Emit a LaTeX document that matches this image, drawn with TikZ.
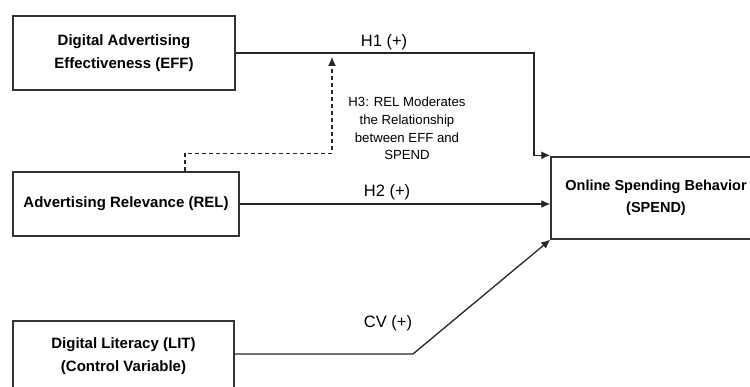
\documentclass[tikz,border=0pt]{standalone}
\usepackage{fontspec}
\setmainfont{Liberation Sans}
\usetikzlibrary{arrows.meta, positioning}

\begin{document}
\begin{tikzpicture}[
        x=1pt, y=-1pt, >={Latex[length=9pt, width=8pt]},
        var/.style={rectangle, draw=black!80, line width=1.4pt, align=center, inner sep=0pt,
            font=\fontsize{15}{23}\selectfont\bfseries},
        e/.style={->, line width=1.3pt, draw=black!85},
        mod/.style={->, line width=1.1pt, draw=black!85, dash pattern=on 4pt off 3pt},
        lab/.style={font=\fontsize{16.5}{18}\selectfont},
        note/.style={font=\fontsize{13.2}{17.7}\selectfont, align=center}
    ]
        \useasboundingbox (0,0) rectangle (750,387);

        \node[var, minimum width=222pt, minimum height=74pt] (eff) at (124,53) {Digital Advertising\\Effectiveness (EFF)};
        \node[var, minimum width=226pt, minimum height=64pt] (rel) at (126,204) {Advertising Relevance (REL)};
        \node[var, minimum width=221pt, minimum height=70pt] (lit) at (123.5,356) {Digital Literacy (LIT)\\(Control Variable)};
        \node[var, minimum width=210pt, minimum height=82pt, font=\fontsize{14.5}{22}\selectfont\bfseries] (spend) at (656,198) {Online Spending Behavior\\(SPEND)};

        \coordinate (h1turn) at (534,53);
        \coordinate (modpt) at (332,53);
        \coordinate (cvbend) at (413,354);

        % direct paths to SPEND
        \draw[e] (eff.east) -- (h1turn) |- ([yshift=1pt]spend.north west);
        \draw[e] (rel.east) -- (rel.east -| spend.west);
        \draw[e] (lit.east |- cvbend) -- (cvbend) -- (spend.south west);

        % moderation (dashed)
        \draw[mod, shorten >=4pt] ([xshift=59pt]rel.north) -- ++(0,-18) -| (modpt);

        \node[lab] (h1lab) at (384,42) {H1 (+)};
        \node[lab] (h2lab) at (387,192) {H2 (+)};
        \node[lab] (cvlab) at (388,323) {CV (+)};
        \node[note] (h3lab) at (407,128.5) {H3: REL Moderates\\the Relationship\\between EFF and\\SPEND};
    \end{tikzpicture}
\end{document}
